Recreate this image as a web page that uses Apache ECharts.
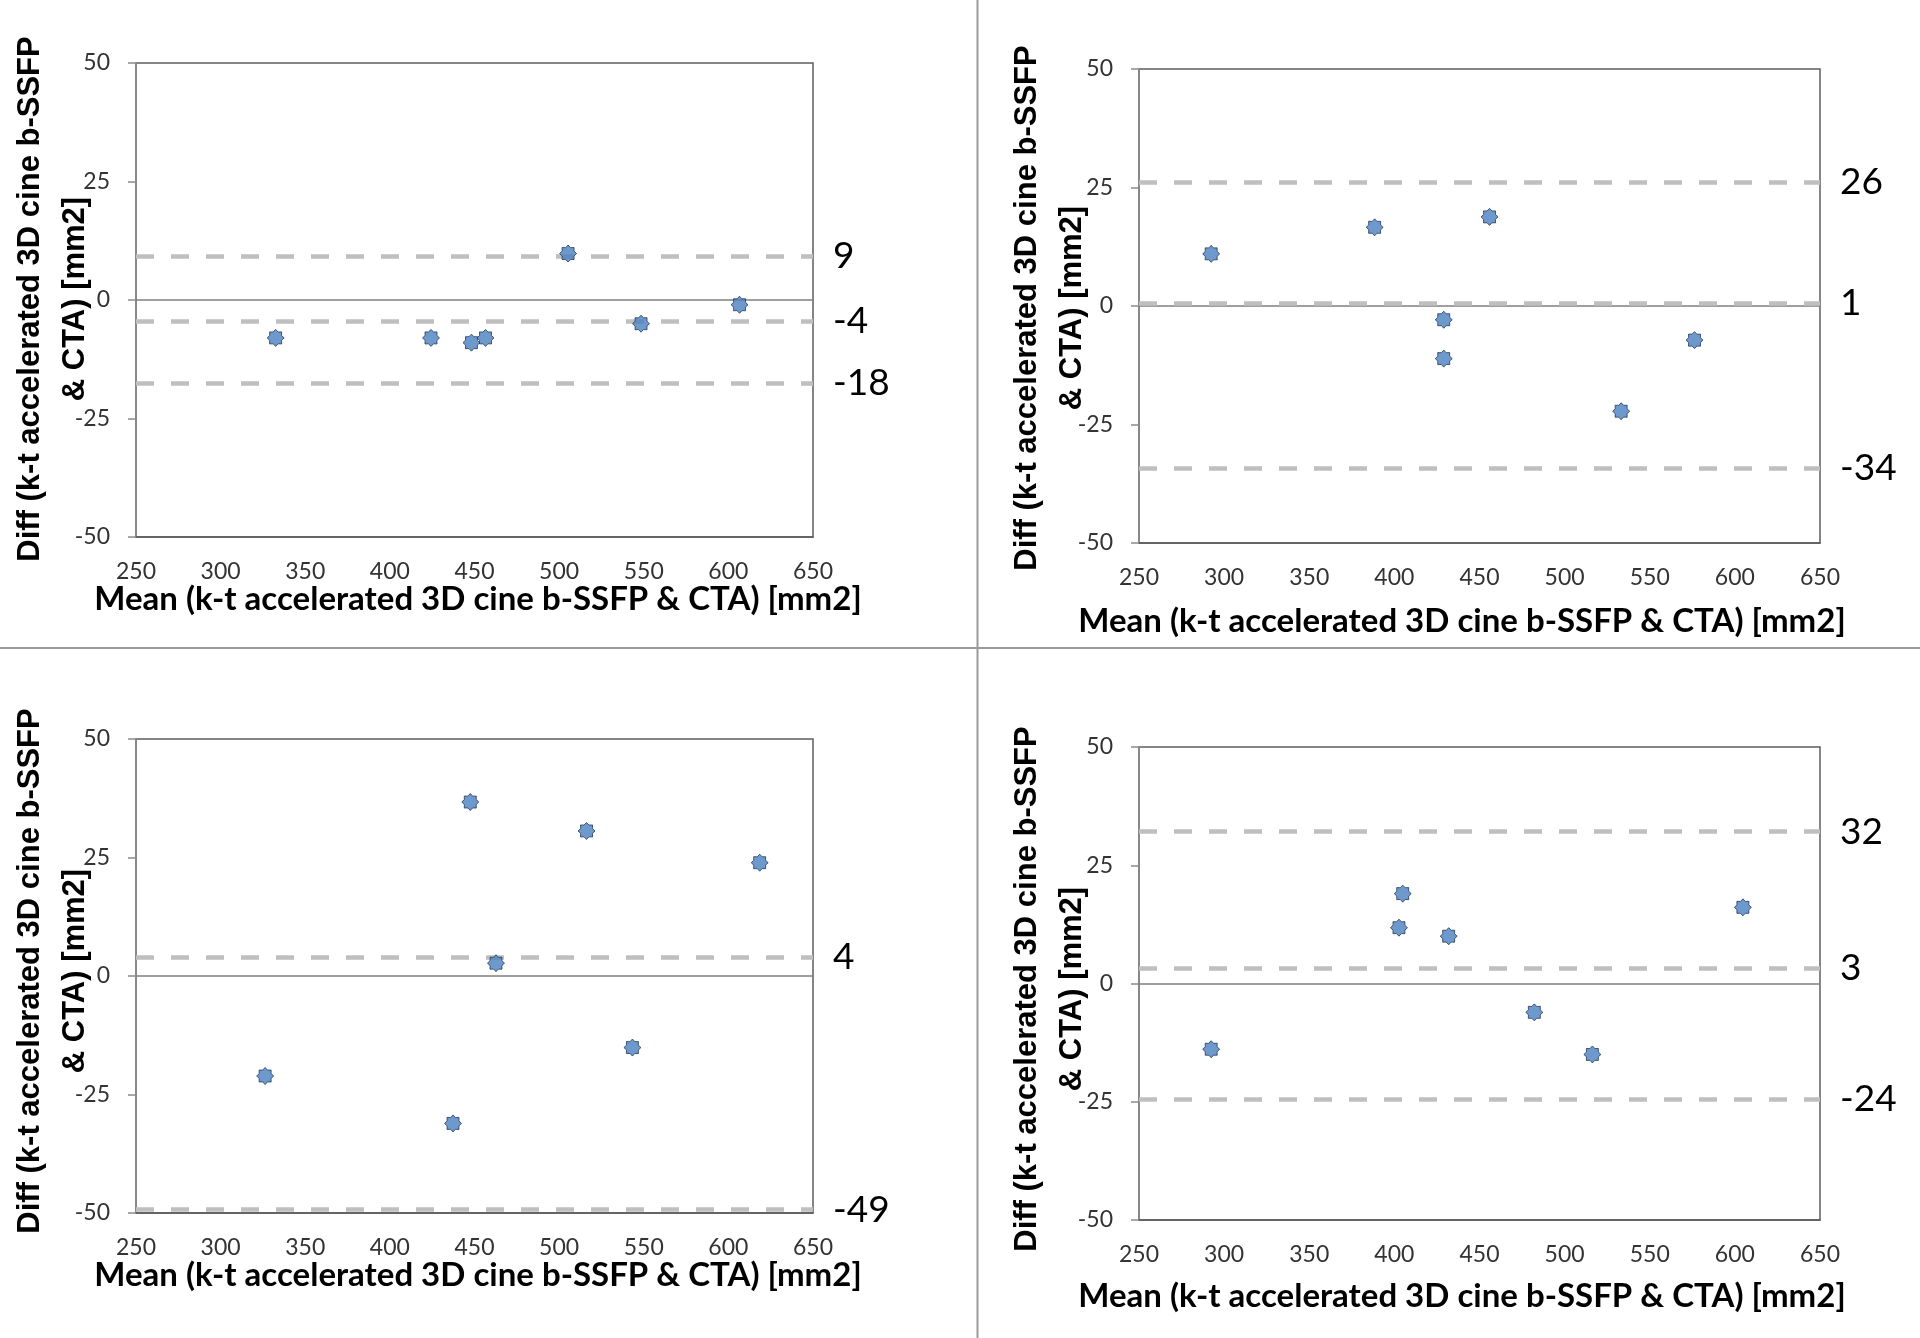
<!DOCTYPE html>
<html>
<head>
<meta charset="utf-8">
<script src="https://cdn.jsdelivr.net/npm/echarts@6/dist/echarts.min.js"></script>
<style>
html,body{margin:0;padding:0;background:#fff;}
#chart{width:1920px;height:1338px;}
</style>
</head>
<body>
<div id="chart"></div>
<script>
// ---- Data ----
const p1X = [332.5, 424.3, 448.2, 456.5, 505.3, 548.4, 606.6];
const p1Y = [-8.0, -8.0, -9.0, -8.0, 9.8, -5.0, -1.0];
const p1Lines = [9.2, -4.4, -17.6];
const p1LineLabels = ['9', '-4', '-18'];

const p2X = [292.4, 388.4, 455.9, 429.0, 429.0, 533.2, 576.3];
const p2Y = [11.0, 16.6, 18.8, -2.9, -11.1, -22.2, -7.2];
const p2Lines = [26.1, 0.6, -34.2];
const p2LineLabels = ['26', '1', '-34'];

const p3X = [447.5, 516.2, 618.5, 462.7, 326.3, 437.3, 543.3];
const p3Y = [36.7, 30.6, 23.9, 2.7, -21.1, -31.1, -15.1];
const p3Lines = [3.9, -49.3];
const p3LineLabels = ['4', '-49'];

const p4X = [292.4, 404.9, 402.7, 431.9, 604.7, 482.2, 516.3];
const p4Y = [-13.9, 19.0, 11.8, 10.0, 16.1, -6.1, -15.0];
const p4Lines = [32.1, 3.3, -24.4];
const p4LineLabels = ['32', '3', '-24'];

const xMin = 250, xMax = 650, xStep = 50;
const yMin = -50, yMax = 50, yStep = 25;

const yTitleLines = ['Diff (k-t accelerated 3D cine b-SSFP', '& CTA) [mm2]'];
const xTitle = 'Mean (k-t accelerated 3D cine b-SSFP & CTA) [mm2]';

// ---- Layout / style ----
const panels = [
  {xs: p1X, ys: p1Y, lines: p1Lines, labels: p1LineLabels, grid: {left: 136, top: 63, width: 677, height: 474}, yt: [53, 299], xt: [478, 599]},
  {xs: p2X, ys: p2Y, lines: p2Lines, labels: p2LineLabels, grid: {left: 1139, top: 69, width: 681, height: 474}, yt: [1050, 308], xt: [1462, 621]},
  {xs: p3X, ys: p3Y, lines: p3Lines, labels: p3LineLabels, grid: {left: 136, top: 739, width: 677, height: 474}, yt: [53, 971], xt: [478, 1275]},
  {xs: p4X, ys: p4Y, lines: p4Lines, labels: p4LineLabels, grid: {left: 1139, top: 747, width: 681, height: 473}, yt: [1050, 989], xt: [1462, 1296]}
];

// star-burst marker path
function starPath() {
  let d = '';
  for (let k = 0; k < 16; k++) {
    const a = -Math.PI / 2 + k * Math.PI / 8;
    const r = (k % 2 === 0) ? 10 : 7.5;
    d += (k === 0 ? 'M' : 'L') + (r * Math.cos(a)).toFixed(2) + ',' + (r * Math.sin(a)).toFixed(2) + ' ';
  }
  return 'path://' + d + 'Z';
}
const marker = starPath();

const tickFont = 'Lato';
const grids = [], xAxes = [], yAxes = [], series = [], graphics = [];

panels.forEach((p, i) => {
  grids.push(Object.assign({show: true, borderColor: '#5e5e5e', borderWidth: 1.5, backgroundColor: 'transparent'}, p.grid));
  xAxes.push({
    type: 'value', gridIndex: i, min: xMin, max: xMax, interval: xStep,
    axisLine: {show: true, onZero: false, lineStyle: {color: '#5a5a5a', width: 1.5}},
    axisTick: {show: false},
    splitLine: {show: false},
    axisLabel: {margin: 23, fontFamily: tickFont, fontSize: 23, color: '#333'}
  });
  yAxes.push({
    type: 'value', gridIndex: i, min: yMin, max: yMax, interval: yStep,
    axisLine: {show: true, onZero: false, lineStyle: {color: '#8a8a8a', width: 1.5}},
    axisTick: {show: true, inside: false, length: 8, lineStyle: {color: '#8a8a8a', width: 1.5}},
    splitLine: {show: false},
    axisLabel: {margin: 26, fontFamily: tickFont, fontSize: 23, color: '#333'}
  });
  const mlData = [
    {yAxis: 0, lineStyle: {type: 'solid', color: '#7f7f7f', width: 1.5}, label: {show: false}}
  ];
  p.lines.forEach((v, j) => {
    mlData.push({
      yAxis: v,
      lineStyle: {type: [18, 17], color: '#bfbfbf', width: 4.5},
      label: {show: true, position: 'end', distance: 20, formatter: p.labels[j],
              fontFamily: 'Lato', fontSize: 37, color: '#000'}
    });
  });
  series.push({
    type: 'scatter', xAxisIndex: i, yAxisIndex: i,
    data: p.xs.map((x, k) => [x, p.ys[k]]),
    symbol: marker, symbolSize: 17,
    itemStyle: {color: '#4a7fc0', borderColor: '#23385a', borderWidth: 1},
    z: 5,
    markLine: {silent: true, symbol: ['none', 'none'], animation: false, data: mlData, z: 3}
  });
  graphics.push({
    type: 'text', x: p.yt[0], y: p.yt[1], rotation: Math.PI / 2,
    style: {text: yTitleLines.join('\n'), x: 0, y: 0, align: 'center', verticalAlign: 'middle',
            font: 'bold 31px "Liberation Sans"', lineHeight: 45, fill: '#000'}
  });
  graphics.push({
    type: 'text', x: p.xt[0], y: p.xt[1],
    style: {text: xTitle, x: 0, y: 0, align: 'center', verticalAlign: 'middle',
            font: 'bold 33px Lato', fill: '#000'}
  });
});

// panel separators
graphics.push({type: 'line', shape: {x1: 977.5, y1: 0, x2: 977.5, y2: 1338}, style: {stroke: '#9a9a9a', lineWidth: 2}});
graphics.push({type: 'line', shape: {x1: 0, y1: 648, x2: 1920, y2: 648}, style: {stroke: '#9a9a9a', lineWidth: 2}});

const chart = echarts.init(document.getElementById('chart'), null, {renderer: 'canvas'});
chart.setOption({
  animation: false,
  backgroundColor: '#ffffff',
  grid: grids, xAxis: xAxes, yAxis: yAxes, series: series, graphic: graphics
});
</script>
</body>
</html>
